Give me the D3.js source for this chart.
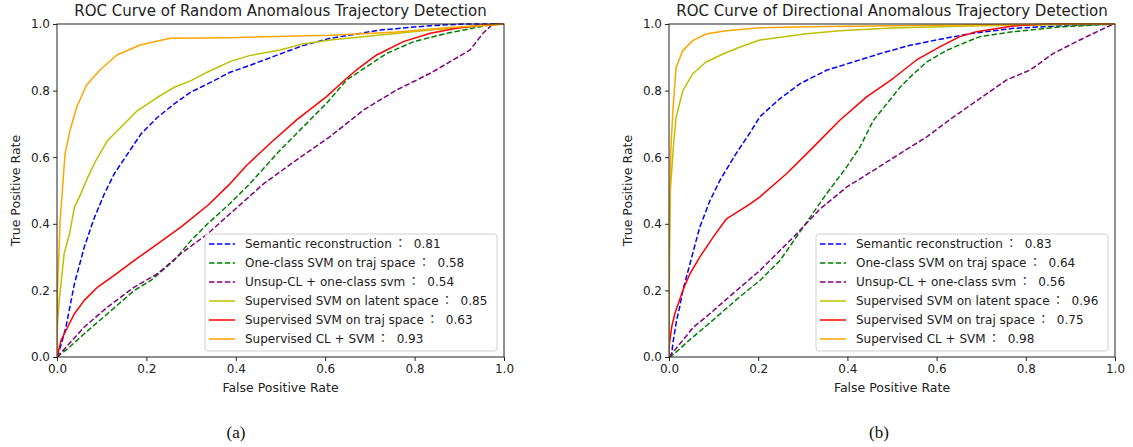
<!DOCTYPE html>
<html>
<head>
<meta charset="utf-8">
<script src="https://cdn.jsdelivr.net/npm/d3@7"></script>
<style>
  body { margin: 0; background: #fff; }
  svg { display: block; font-family: 'DejaVu Sans', 'Noto Sans CJK JP', sans-serif; }
</style>
</head>
<body>
<div id="chart"></div>
<script>
// series names, colours, dash style
const seriesNames = [
  'Semantic reconstruction',
  'One-class SVM on traj space',
  'Unsup-CL + one-class svm',
  'Supervised SVM on latent space',
  'Supervised SVM on traj space',
  'Supervised CL + SVM'
];
const seriesColors = ['#0000ff', '#008000', '#800080', '#bfbf00', '#ff0000', '#ffa500'];
const seriesDashed = [true, true, true, false, false, false];

const ticks = [0, 0.2, 0.4, 0.6, 0.8, 1.0];

// (a) random anomalies, [fpr, tpr]
const randomAuc = [0.81, 0.58, 0.54, 0.85, 0.63, 0.93];
const randomSemantic = [[0, 0], [0.01, 0.04], [0.02, 0.09], [0.039, 0.22], [0.061, 0.33], [0.084, 0.42], [0.106, 0.49], [0.128, 0.55], [0.158, 0.61], [0.188, 0.67], [0.225, 0.72], [0.262, 0.76], [0.3, 0.796], [0.337, 0.82], [0.387, 0.855], [0.43, 0.875], [0.499, 0.91], [0.55, 0.935], [0.611, 0.957], [0.67, 0.97], [0.723, 0.982], [0.835, 0.995], [0.91, 1], [1, 1]];
const randomOcsvm = [[0, 0], [0.024, 0.025], [0.061, 0.07], [0.113, 0.13], [0.173, 0.2], [0.21, 0.23], [0.262, 0.29], [0.3, 0.35], [0.337, 0.4], [0.387, 0.461], [0.432, 0.521], [0.499, 0.621], [0.544, 0.682], [0.603, 0.762], [0.648, 0.832], [0.693, 0.872], [0.738, 0.912], [0.798, 0.947], [0.872, 0.972], [0.939, 0.99], [0.98, 1], [1, 1]];
const randomUnsupCl = [[0, 0], [0.024, 0.035], [0.061, 0.09], [0.113, 0.15], [0.173, 0.21], [0.225, 0.25], [0.277, 0.31], [0.337, 0.37], [0.387, 0.43], [0.462, 0.52], [0.536, 0.592], [0.611, 0.662], [0.686, 0.742], [0.76, 0.802], [0.835, 0.852], [0.924, 0.922], [0.953, 0.972], [0.975, 1], [1, 1]];
const randomLatent = [[0, 0], [0.001, 0.1], [0.005, 0.17], [0.016, 0.31], [0.028, 0.37], [0.039, 0.45], [0.05, 0.48], [0.069, 0.54], [0.087, 0.59], [0.113, 0.65], [0.143, 0.69], [0.18, 0.74], [0.225, 0.78], [0.262, 0.81], [0.3, 0.83], [0.337, 0.856], [0.387, 0.887], [0.43, 0.905], [0.499, 0.922], [0.55, 0.94], [0.611, 0.952], [0.723, 0.967], [0.835, 0.982], [0.947, 0.994], [1, 1]];
const randomTraj = [[0, 0], [0.009, 0.05], [0.024, 0.09], [0.039, 0.13], [0.061, 0.17], [0.091, 0.21], [0.128, 0.245], [0.173, 0.29], [0.225, 0.34], [0.277, 0.39], [0.337, 0.455], [0.387, 0.52], [0.424, 0.575], [0.477, 0.642], [0.536, 0.712], [0.603, 0.782], [0.648, 0.837], [0.67, 0.862], [0.715, 0.907], [0.775, 0.947], [0.835, 0.972], [0.894, 0.987], [0.953, 0.997], [1, 1]];
const randomClSvm = [[0, 0], [0.001, 0.2], [0.007, 0.41], [0.018, 0.61], [0.029, 0.68], [0.044, 0.75], [0.066, 0.817], [0.096, 0.862], [0.134, 0.907], [0.186, 0.937], [0.253, 0.957], [0.387, 0.959], [0.611, 0.966], [0.76, 0.976], [0.872, 0.989], [0.97, 0.997], [1, 1]];

// (b) directional anomalies, [fpr, tpr]
const directionAuc = [0.83, 0.64, 0.56, 0.96, 0.75, 0.98];
const directionSemantic = [[0, 0], [0.006, 0.01], [0.0097, 0.05], [0.017, 0.11], [0.024, 0.15], [0.031, 0.2], [0.047, 0.28], [0.069, 0.39], [0.092, 0.47], [0.114, 0.53], [0.15, 0.61], [0.18, 0.67], [0.204, 0.722], [0.249, 0.776], [0.294, 0.821], [0.353, 0.861], [0.413, 0.886], [0.473, 0.911], [0.54, 0.936], [0.615, 0.956], [0.675, 0.971], [0.772, 0.987], [0.884, 0.995], [1, 1]];
const directionOcsvm = [[0, 0], [0.006, 0.003], [0.045, 0.05], [0.098, 0.11], [0.158, 0.18], [0.204, 0.23], [0.249, 0.29], [0.301, 0.39], [0.353, 0.49], [0.398, 0.57], [0.428, 0.63], [0.458, 0.71], [0.488, 0.76], [0.518, 0.81], [0.548, 0.85], [0.578, 0.886], [0.623, 0.921], [0.667, 0.946], [0.697, 0.962], [0.772, 0.977], [0.884, 0.992], [1, 1]];
const directionUnsupCl = [[0, 0], [0.006, 0.01], [0.031, 0.05], [0.055, 0.09], [0.083, 0.12], [0.13, 0.175], [0.204, 0.26], [0.279, 0.36], [0.339, 0.445], [0.398, 0.51], [0.458, 0.56], [0.518, 0.611], [0.578, 0.661], [0.638, 0.721], [0.697, 0.776], [0.757, 0.832], [0.81, 0.862], [0.862, 0.912], [0.921, 0.952], [0.996, 1], [1, 1]];
const directionLatent = [[0, 0], [0.001, 0.3], [0.003, 0.5], [0.0097, 0.63], [0.016, 0.72], [0.031, 0.8], [0.053, 0.85], [0.083, 0.886], [0.121, 0.91], [0.158, 0.93], [0.204, 0.952], [0.308, 0.971], [0.383, 0.98], [0.5, 0.988], [0.7, 0.995], [1, 1]];
const directionTraj = [[0, 0], [0.001, 0.04], [0.006, 0.09], [0.013, 0.13], [0.031, 0.2], [0.047, 0.25], [0.069, 0.3], [0.099, 0.36], [0.129, 0.415], [0.182, 0.46], [0.204, 0.481], [0.264, 0.551], [0.324, 0.631], [0.383, 0.711], [0.443, 0.781], [0.503, 0.837], [0.555, 0.892], [0.608, 0.932], [0.652, 0.962], [0.689, 0.977], [0.772, 0.994], [0.85, 1], [1, 1]];
const directionClSvm = [[0, 0], [0.001, 0.4], [0.004, 0.62], [0.0097, 0.76], [0.016, 0.87], [0.031, 0.92], [0.053, 0.95], [0.083, 0.97], [0.128, 0.98], [0.196, 0.988], [0.308, 0.992], [0.5, 0.995], [0.7, 0.998], [1, 1]];


const svg = d3.select('#chart')
  .append('svg')
  .attr('width', 1133)
  .attr('height', 447);

function drawPanel ({ left, right, title, caption, captionX, curves, aucs }) {
  const top = 24;
  const bottom = 357;

  const x = d3.scaleLinear().domain([0, 1]).range([left, right]);
  const y = d3.scaleLinear().domain([0, 1]).range([bottom, top]);

  const g = svg.append('g');

  const line = d3.line()
    .x(d => x(d[0]))
    .y(d => y(d[1]));

  g.append('defs').append('clipPath')
    .attr('id', 'clip-' + caption)
    .append('rect')
    .attr('x', left)
    .attr('y', top - 1)
    .attr('width', right - left)
    .attr('height', bottom - top + 2);

  g.append('g')
    .attr('clip-path', 'url(#clip-' + caption + ')')
    .selectAll('path')
    .data(curves)
    .join('path')
    .attr('d', line)
    .attr('fill', 'none')
    .attr('stroke', (d, i) => seriesColors[i])
    .attr('stroke-width', 1.5)
    .attr('stroke-linejoin', 'round')
    .attr('stroke-dasharray', (d, i) => seriesDashed[i] ? '5.5,2.4' : null);

  const xAxis = g.append('g')
    .attr('transform', `translate(0,${bottom})`)
    .call(d3.axisBottom(x).tickValues(ticks).tickFormat(d3.format('.1f')).tickSize(4).tickSizeOuter(0).tickPadding(3));

  const yAxis = g.append('g')
    .attr('transform', `translate(${left},0)`)
    .call(d3.axisLeft(y).tickValues(ticks).tickFormat(d3.format('.1f')).tickSize(4).tickSizeOuter(0).tickPadding(3));

  [xAxis, yAxis].forEach(a => {
    a.select('.domain').remove();
    a.selectAll('text')
      .attr('font-size', 12)
      .attr('font-family', 'DejaVu Sans')
      .attr('fill', '#222');
    a.selectAll('line').attr('stroke', '#222');
  });

  g.append('rect')
    .attr('x', left)
    .attr('y', top)
    .attr('width', right - left)
    .attr('height', bottom - top)
    .attr('fill', 'none')
    .attr('stroke', '#222')
    .attr('stroke-width', 1);

  g.append('text')
    .attr('x', (left + right) / 2)
    .attr('y', 16)
    .attr('text-anchor', 'middle')
    .attr('font-size', 15)
    .attr('fill', '#222')
    .text(title);

  g.append('text')
    .attr('x', (left + right) / 2)
    .attr('y', 392)
    .attr('text-anchor', 'middle')
    .attr('font-size', 12.5)
    .attr('fill', '#222')
    .text('False Positive Rate');

  g.append('text')
    .attr('transform', `translate(${left - 37},${(top + bottom) / 2}) rotate(-90)`)
    .attr('text-anchor', 'middle')
    .attr('font-size', 12.5)
    .attr('fill', '#222')
    .text('True Positive Rate');

  g.append('text')
    .attr('x', captionX)
    .attr('y', 438)
    .attr('text-anchor', 'middle')
    .attr('font-size', 17)
    .attr('font-family', 'Liberation Serif')
    .attr('fill', '#111')
    .text('(' + caption + ')');

  // legend
  const lx = right - 299;
  const ly = 234;
  const legend = g.append('g');

  legend.append('rect')
    .attr('x', lx)
    .attr('y', ly)
    .attr('width', 292)
    .attr('height', 117)
    .attr('rx', 3)
    .attr('fill', '#fff')
    .attr('fill-opacity', 0.8)
    .attr('stroke', '#d0d0d0');

  const rows = legend.selectAll('g')
    .data(seriesNames)
    .join('g')
    .attr('transform', (d, i) => `translate(${lx},${ly + 10 + i * 19})`);

  rows.append('line')
    .attr('x1', 4)
    .attr('x2', 30)
    .attr('stroke', (d, i) => seriesColors[i])
    .attr('stroke-width', 1.5)
    .attr('stroke-dasharray', (d, i) => seriesDashed[i] ? '5.5,2.4' : null);

  const label = rows.append('text')
    .attr('x', 40)
    .attr('dy', '0.35em')
    .attr('font-size', 12)
    .attr('fill', '#222')
    .attr('xml:space', 'preserve');

  label.append('tspan').text(d => d + '\u2009');
  label.append('tspan').attr('font-family', 'Noto Sans CJK JP').text('：');
  label.append('tspan').text((d, i) => '  ' + aucs[i].toFixed(2));
}

drawPanel({
  left: 57,
  right: 504,
  title: 'ROC Curve of Random Anomalous Trajectory Detection',
  caption: 'a',
  captionX: 236,
  curves: [randomSemantic, randomOcsvm, randomUnsupCl, randomLatent, randomTraj, randomClSvm],
  aucs: randomAuc
});

drawPanel({
  left: 669,
  right: 1115,
  title: 'ROC Curve of Directional Anomalous Trajectory Detection',
  caption: 'b',
  captionX: 879,
  curves: [directionSemantic, directionOcsvm, directionUnsupCl, directionLatent, directionTraj, directionClSvm],
  aucs: directionAuc
});
</script>
</body>
</html>
